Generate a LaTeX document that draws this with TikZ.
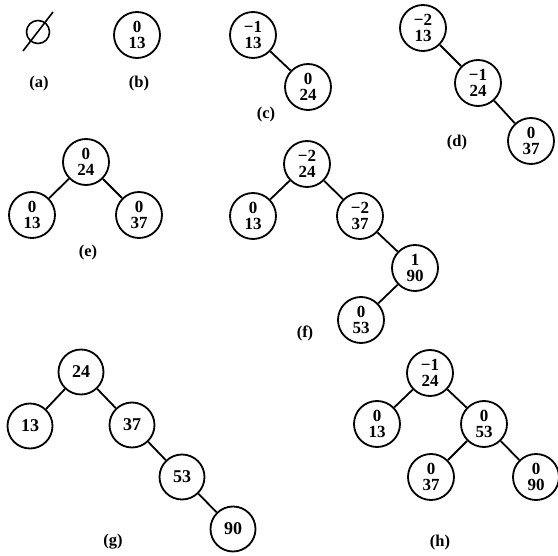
\documentclass[tikz,border=0pt]{standalone}
\usepackage{fontspec}
\setmainfont{Liberation Serif}
\begin{document}
\begin{tikzpicture}[x=1pt,y=-1pt,
  tn/.style={circle,draw,line width=1.8pt,minimum size=46pt,inner sep=0pt,align=center,
    font=\fontsize{17}{16}\selectfont\bfseries},
  sn/.style={circle,draw,line width=1.8pt,minimum size=45pt,inner sep=0pt,
    font=\fontsize{18}{18}\selectfont\bfseries},
  lab/.style={font=\fontsize{16.5}{16.5}\selectfont\bfseries},
  ed/.style={line width=1.8pt}]
\useasboundingbox (0,0) rectangle (558,556);
% (a)
\node[circle,draw,line width=1.6pt,minimum size=23pt,inner sep=0pt] (e0) at (38,32) {};
\coordinate (s1) at (23,51);
\coordinate (s2) at (53,12);
\draw[line width=1.6pt] (s1) -- (s2);
\node[lab] (la) at (39,84) {(a)};
% (b)
\node[tn] (b1) at (137,35) {0\\13};
\node[lab] (lb) at (139,84) {(b)};
% (c)
\node[tn] (c1) at (253,35) {−1\\13};
\node[tn] (c2) at (308,87) {0\\24};
\draw[ed] (c1) -- (c2);
\node[lab] (lc) at (266,115) {(c)};
% (d)
\node[tn] (d1) at (423,28) {−2\\13};
\node[tn] (d2) at (478,83) {−1\\24};
\node[tn] (d3) at (531,141) {0\\37};
\draw[ed] (d1) -- (d2);
\draw[ed] (d2) -- (d3);
\node[lab] (ld) at (457,143) {(d)};
% (e)
\node[tn] (e1) at (86,162) {0\\24};
\node[tn] (e2) at (32,215) {0\\13};
\node[tn] (e3) at (139,215) {0\\37};
\draw[ed] (e1) -- (e2);
\draw[ed] (e1) -- (e3);
\node[lab] (le) at (88,253) {(e)};
% (f)
\node[tn] (f1) at (307,164) {−2\\24};
\node[tn] (f2) at (253,216) {0\\13};
\node[tn] (f3) at (360,216) {−2\\37};
\node[tn] (f4) at (415,268) {1\\90};
\node[tn] (f5) at (361,320) {0\\53};
\draw[ed] (f1) -- (f2);
\draw[ed] (f1) -- (f3);
\draw[ed] (f3) -- (f4);
\draw[ed] (f4) -- (f5);
\node[lab] (lf) at (305,333) {(f)};
% (g)
\node[sn] (g1) at (81,372) {24};
\node[sn] (g2) at (30,426) {13};
\node[sn] (g3) at (132,425) {37};
\node[sn] (g4) at (182,477) {53};
\node[sn] (g5) at (233,529) {90};
\draw[ed] (g1) -- (g2);
\draw[ed] (g1) -- (g3);
\draw[ed] (g3) -- (g4);
\draw[ed] (g4) -- (g5);
\node[lab] (lg) at (113,542) {(g)};
% (h)
\node[tn] (h1) at (430,373) {−1\\24};
\node[tn] (h2) at (377,424) {0\\13};
\node[tn] (h3) at (484,424) {0\\53};
\node[tn] (h4) at (431,477) {0\\37};
\node[tn] (h5) at (536,477) {0\\90};
\draw[ed] (h1) -- (h2);
\draw[ed] (h1) -- (h3);
\draw[ed] (h3) -- (h4);
\draw[ed] (h3) -- (h5);
\node[lab] (lh) at (440,543) {(h)};
\end{tikzpicture}
\end{document}
